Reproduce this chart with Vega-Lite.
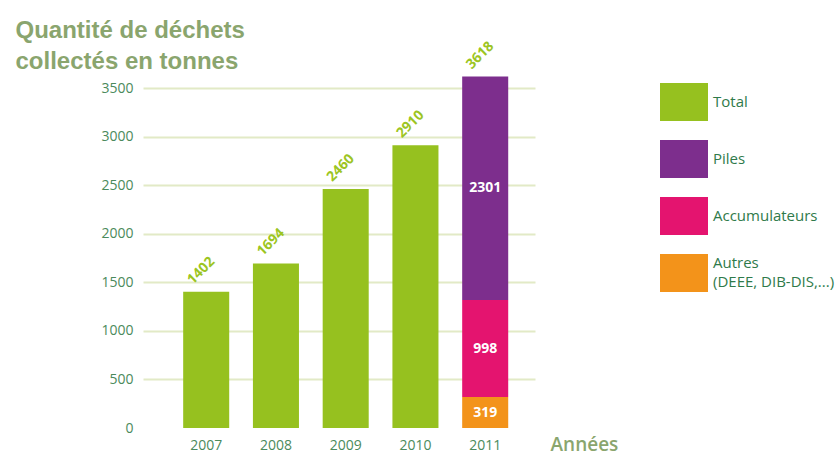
{
  "$schema": "https://vega.github.io/schema/vega-lite/v6.json",
  "width": 392,
  "height": 340,
  "autosize": "none",
  "padding": {"left": 143, "top": 88, "right": 303, "bottom": 30},
  "background": "white",
  "config": {"view": {"stroke": null}, "font": "Open Sans"},
  "data": {
    "values": [
      {"year": "2007", "category": "Total", "value": 1402},
      {"year": "2008", "category": "Total", "value": 1694},
      {"year": "2009", "category": "Total", "value": 2460},
      {"year": "2010", "category": "Total", "value": 2910},
      {"year": "2011", "category": "Autres", "value": 319},
      {"year": "2011", "category": "Accumulateurs", "value": 998},
      {"year": "2011", "category": "Piles", "value": 2301}
    ]
  },
  "transform": [
    {"calculate": "indexof(['Autres','Accumulateurs','Piles','Total'], datum.category)", "as": "ord"}
  ],
  "encoding": {
    "x": {
      "field": "year",
      "type": "ordinal",
      "scale": {"paddingInner": 0.34, "paddingOuter": 0.48, "align": 0.6},
      "axis": {
        "title": "Années",
        "titleX": 407,
        "titleY": 22,
        "titleAlign": "left",
        "titleBaseline": "alphabetic",
        "titleFontSize": 19,
        "titleFont": "Open Sans",
        "titleFontWeight": 600,
        "titleColor": "#8aa56e",
        "labelAngle": 0,
        "labelFontSize": 14,
        "labelColor": "#4b8a5c",
        "labelPadding": 10,
        "ticks": false,
        "tickSize": 0,
        "domain": false
      }
    }
  },
  "layer": [
    {
      "mark": {"type": "bar"},
      "encoding": {
        "y": {
          "field": "value",
          "type": "quantitative",
          "stack": "zero",
          "scale": {"domain": [0, 3500], "nice": false},
          "axis": {
            "title": ["Quantité de déchets", "collectés en tonnes"],
            "titleX": -128,
            "titleY": -51,
            "titleAngle": 0,
            "titleAlign": "left",
            "titleBaseline": "alphabetic",
            "titleFont": "Liberation Sans",
            "titleFontSize": 24,
            "titleFontWeight": "bold",
            "titleLineHeight": 31,
            "titleColor": "#8aa56e",
            "values": [0, 500, 1000, 1500, 2000, 2500, 3000, 3500],
            "format": "d",
            "labelFontSize": 14,
            "labelColor": "#4b8a5c",
            "labelPadding": 10,
            "ticks": false,
            "tickSize": 0,
            "domain": false,
            "grid": true,
            "gridColor": "#e2eac6",
            "gridWidth": 2,
            "gridOpacity": {"condition": {"test": "datum.value === 0", "value": 0}, "value": 1}
          }
        },
        "color": {
          "field": "category",
          "type": "nominal",
          "scale": {
            "domain": ["Total", "Piles", "Accumulateurs", "Autres"],
            "range": ["#96c11f", "#7d2e8d", "#e4146f", "#f3931a"]
          },
          "legend": {
            "title": null,
            "orient": "none",
            "legendX": 522,
            "legendY": -5,
            "symbolType": "M-1.263,-1L1.263,-1L1.263,1L-1.263,1Z",
            "symbolSize": 1444,
            "symbolStrokeWidth": 0,
            "symbolOpacity": 1,
            "rowPadding": 19,
            "labelOffset": 10,
            "labelFontSize": 15,
            "labelColor": "#2f7a4a",
            "labelLimit": 200,
            "labelExpr": "datum.label == 'Autres' ? ['Autres', '(DEEE, DIB-DIS,...)'] : datum.label",
            "encode": {
              "labels": {
                "update": {
                  "dy": {"signal": "datum.value == 'Autres' ? -10 : 0"},
                  "lineHeight": {"value": 19}
                }
              }
            }
          }
        },
        "order": {"field": "ord"}
      }
    },
    {
      "transform": [
        {"aggregate": [{"op": "sum", "field": "value", "as": "total"}], "groupby": ["year"]}
      ],
      "mark": {
        "type": "text",
        "angle": 315,
        "align": "center",
        "baseline": "middle",
        "xOffset": -5,
        "yOffset": -21,
        "fontSize": 14,
        "fontWeight": "bold",
        "color": "#9cc522"
      },
      "encoding": {
        "y": {"field": "total", "type": "quantitative"},
        "text": {"field": "total", "type": "quantitative"}
      }
    },
    {
      "transform": [
        {"filter": "datum.category !== 'Total'"},
        {"stack": "value", "groupby": ["year"], "sort": [{"field": "ord", "order": "ascending"}], "as": ["v0", "v1"]},
        {"calculate": "(datum.v0 + datum.v1) / 2", "as": "mid"}
      ],
      "mark": {
        "type": "text",
        "align": "center",
        "baseline": "middle",
        "fontSize": 14,
        "fontWeight": "bold",
        "color": "white"
      },
      "encoding": {
        "y": {"field": "mid", "type": "quantitative"},
        "text": {"field": "value", "type": "quantitative"}
      }
    }
  ]
}
